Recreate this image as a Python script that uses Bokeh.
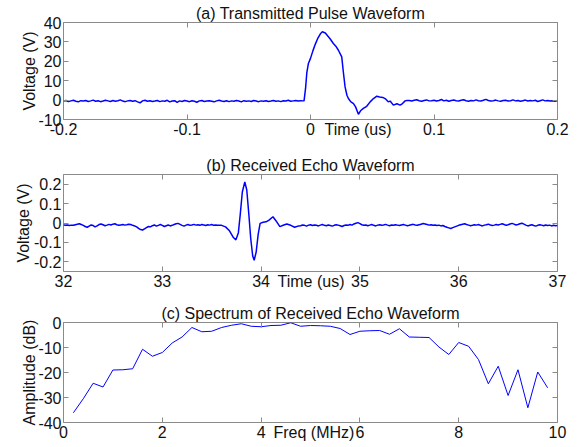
import numpy as np
from bokeh.plotting import figure
from bokeh.layouts import column
from bokeh.models import Range1d, LinearAxis, FixedTicker, CustomLabelingPolicy
from bokeh.embed import file_html
from bokeh.resources import INLINE

# ---------------- data ----------------
# (a) transmitted pulse: baseline before pulse (t = -0.200 .. -0.006 us, step 0.002)
a_pre_start, a_pre_step = -0.200, 0.002
a_pre_v = [-0.5,-0.2,-0.8,-0.4,-0.1,-0.6,-0.9,-0.3,-0.5,-0.2,
           -0.7,-0.4,0.0,-0.6,-0.3,-0.8,-0.5,-0.1,-0.4,-0.7,
           -0.2,-0.6,-0.3,0.1,-0.5,-0.8,-0.4,-0.2,-0.6,-0.3,
           -0.9,-1.4,-0.4,-0.1,-0.6,-0.3,-0.7,-0.5,-0.2,-0.8,
           -0.4,-0.6,-0.1,-0.9,-0.5,-0.3,-1.2,-0.4,-0.7,-0.2,
           -0.5,-0.8,-0.3,-0.6,-1.1,-0.4,-0.2,-0.7,-0.5,-0.3,
           -0.6,-0.9,-0.4,-0.1,-0.5,-0.7,-0.3,-0.8,-0.4,-0.6,
           -0.2,-0.5,-0.9,-0.3,-0.6,-0.4,-0.7,-0.2,-0.5,-0.8,
           -0.4,-0.6,-0.3,-0.7,-0.5,-0.2,-0.6,-0.4,-0.8,-0.3,
           -0.5,-0.1,-0.6,-0.4,-0.2,-0.5,-0.3,-0.4]
# pulse itself
a_pulse_t = [-0.0052,-0.004,-0.003,-0.0017,0.000,0.002,0.004,0.006,0.008,0.0096,
             0.012,0.014,0.016,0.0185,0.0205,0.0226,0.0253,0.0265,0.028,0.0295,
             0.0307,0.0325,0.0348,0.0365,0.0388,0.0405,0.0428,0.0455,0.0483,0.051,
             0.0537,0.056,0.0585,0.0604,0.063,0.0645,0.0671,0.070,0.0725,0.0745,0.0766,0.078]
a_pulse_v = [-0.3,6.0,14.0,18.9,21.5,25.5,29.0,32.0,34.2,35.2,
             34.6,33.0,31.5,29.2,27.8,25.7,22.3,15.0,6.8,2.5,
             0.8,-0.8,-1.8,-3.5,-7.3,-5.5,-4.3,-3.2,-0.9,0.8,
             2.0,1.6,1.4,0.8,-0.9,-0.5,-2.6,-1.9,-2.6,-1.8,-0.4,-0.2]
# baseline after pulse (t = 0.080 .. 0.200 us, step 0.002)
a_post_start, a_post_step = 0.080, 0.002
a_post_v = [-0.2,-0.5,-0.1,0.2,-0.3,-0.6,-0.2,0.1,-0.4,-0.3,
            -0.1,-0.5,-0.2,0.3,-0.4,-0.1,-0.6,-0.2,0.0,-0.3,
            -0.5,-0.1,0.2,-0.3,-0.6,-0.2,-0.4,0.1,-0.3,-0.5,
            -0.1,0.4,-0.2,-0.5,-0.3,0.0,-0.4,-0.6,-0.2,-0.1,
            -0.5,-0.3,0.1,-0.4,-0.2,-0.6,-0.3,0.0,-0.5,-0.2,
            -0.4,-0.1,-0.7,-0.3,0.1,-0.4,-0.2,-0.5,-0.3,-0.6,-0.2]
a_xticks = [-0.2, -0.1, 0, 0.1, 0.2]
a_xlabels = ["-0.2", "-0.1", "0", "0.1", "0.2"]
a_yticks = [-10, 0, 10, 20, 30, 40]
a_ylabels = ["-10", "0", "10", "20", "30", "40"]

# (b) received echo: baseline before echo (t = 32.00 .. 33.58 us, step 0.02)
b_pre_start, b_pre_step = 32.00, 0.02
b_pre_v = [-0.010,-0.012,-0.010,-0.013,-0.011,-0.012,-0.009,-0.006,-0.004,-0.008,
           -0.012,-0.018,-0.022,-0.016,-0.010,-0.013,-0.020,-0.015,-0.008,-0.005,
           -0.009,-0.014,-0.011,-0.007,-0.010,-0.006,-0.004,-0.009,-0.012,-0.010,
           -0.008,-0.011,-0.009,-0.006,-0.008,-0.012,-0.015,-0.020,-0.028,-0.034,
           -0.036,-0.030,-0.024,-0.018,-0.020,-0.014,-0.010,-0.016,-0.012,-0.008,
           -0.012,-0.018,-0.014,-0.010,-0.015,-0.012,-0.008,-0.004,-0.002,-0.007,
           -0.012,-0.016,-0.011,-0.008,-0.012,-0.010,-0.007,-0.011,-0.009,-0.012,
           -0.008,-0.010,-0.013,-0.009,-0.011,-0.008,-0.012,-0.010,-0.011,-0.012]
b_echo_t = [33.60,33.64,33.68,33.72,33.745,33.77,33.79,33.81,33.835,33.855,
            33.875,33.895,33.915,33.93,33.95,33.97,33.99,34.02,34.05,34.08,
            34.12,34.15,34.19,34.23,34.26,34.30,34.34,34.38]
b_echo_v = [-0.012,-0.020,-0.040,-0.075,-0.087,-0.050,0.050,0.160,0.212,0.170,
            0.050,-0.080,-0.170,-0.192,-0.150,-0.060,-0.002,0.004,0.006,0.015,
            0.032,0.012,-0.019,-0.010,-0.005,-0.012,-0.022,-0.015]
# baseline after echo (t = 34.40 .. 37.00 us, step 0.02)
b_post_start, b_post_step = 34.40, 0.02
b_post_v = [-0.014,-0.010,-0.012,-0.016,-0.011,-0.009,-0.013,-0.010,-0.012,-0.015,
            -0.011,-0.008,-0.012,-0.014,-0.010,-0.013,-0.016,-0.012,-0.009,-0.011,
            -0.014,-0.018,-0.013,-0.010,-0.012,-0.008,-0.011,-0.005,-0.001,0.002,
            -0.003,-0.009,-0.012,-0.010,-0.014,-0.011,-0.008,-0.012,-0.015,-0.011,
            -0.009,-0.012,-0.010,-0.007,-0.011,-0.014,-0.010,-0.012,-0.009,-0.011,
            -0.013,-0.010,-0.008,-0.011,-0.014,-0.012,-0.009,-0.007,-0.010,-0.012,
            -0.009,-0.006,-0.003,-0.005,-0.008,-0.011,-0.009,-0.012,-0.010,-0.013,
            -0.011,-0.015,-0.013,-0.018,-0.022,-0.025,-0.028,-0.024,-0.020,-0.016,
            -0.012,-0.009,-0.006,-0.004,-0.008,-0.011,-0.014,-0.012,-0.009,-0.011,
            -0.008,-0.012,-0.015,-0.011,-0.009,-0.006,-0.010,-0.013,-0.011,-0.008,
            -0.010,-0.007,-0.004,-0.008,-0.012,-0.009,-0.005,-0.002,-0.006,-0.010,
            -0.008,-0.004,-0.001,-0.006,-0.011,-0.015,-0.012,-0.009,-0.013,-0.016,
            -0.012,-0.009,-0.011,-0.014,-0.010,-0.013,-0.011,-0.015,-0.012,-0.014,
            -0.013]
b_xticks = [32, 33, 34, 35, 36, 37]
b_xlabels = ["32", "33", "34", "35", "36", "37"]
b_yticks = [-0.2, -0.1, 0, 0.1, 0.2]
b_ylabels = ["-0.2", "-0.1", "0", "0.1", "0.2"]

# (c) spectrum
c_freq = [0.2,0.4,0.6,0.8,1.0,1.2,1.4,1.6,1.8,2.0,
          2.2,2.4,2.6,2.8,3.0,3.2,3.4,3.6,3.8,4.0,
          4.2,4.4,4.6,4.8,5.0,5.2,5.4,5.6,5.8,6.0,
          6.2,6.4,6.6,6.8,7.0,7.2,7.4,7.6,7.8,8.0,
          8.2,8.4,8.6,8.8,9.0,9.2,9.4,9.6,9.8]
c_amp = [-36.1,-30.5,-24.3,-25.8,-19.0,-18.9,-18.5,-10.7,-13.5,-12.0,
         -8.2,-5.8,-2.0,-3.7,-3.5,-2.0,-1.1,-0.5,-1.5,-1.7,
         -1.2,-1.1,-0.1,-1.5,-1.2,-1.3,-1.5,-2.4,-4.8,-3.5,
         -3.3,-3.2,-4.7,-2.5,-5.8,-5.9,-6.0,-9.8,-12.8,-8.0,
         -9.5,-14.8,-24.5,-17.5,-29.2,-18.9,-34.1,-19.8,-26.1]
c_xticks = [0, 2, 4, 6, 8, 10]
c_xlabels = ["0", "2", "4", "6", "8", "10"]
c_yticks = [-40, -30, -20, -10, 0]
c_ylabels = ["-40", "-30", "-20", "-10", "0"]

# ---------------- styling ----------------
FONT = "Liberation Sans"
GRAY = "#8a8a8a"
BLUE = "#0000FF"
TXT = "#111111"


def tick_axis(ticks):
    """inward ticks only, no labels"""
    ax = LinearAxis()
    ax.ticker = FixedTicker(ticks=ticks)
    ax.major_tick_in = 5
    ax.major_tick_out = 0
    ax.minor_tick_in = 0
    ax.minor_tick_out = 0
    ax.major_tick_line_color = GRAY
    ax.axis_line_color = None
    ax.major_label_text_font_size = "0px"
    ax.major_label_standoff = 0
    ax.major_label_policy = CustomLabelingPolicy(code="return []")
    return ax


def label_axis(ticks, labels, standoff):
    """labels only, no tick marks"""
    ax = LinearAxis()
    ax.ticker = FixedTicker(ticks=ticks)
    ax.major_tick_in = 0
    ax.major_tick_out = 0
    ax.minor_tick_in = 0
    ax.minor_tick_out = 0
    ax.major_tick_line_color = None
    ax.axis_line_color = None
    ax.major_label_text_font = FONT
    ax.major_label_text_font_size = "16px"
    ax.major_label_text_color = TXT
    ax.major_label_standoff = standoff
    ax.major_label_overrides = {t: s for t, s in zip(ticks, labels)}
    return ax


def make_panel(xr, yr, xticks, xlabels, yticks, ylabels, ylabel, title, xlabel,
               xlabel_pos, ylabel_standoff, fh, top, bottom):
    p = figure(frame_width=494, frame_height=fh,
               min_border_left=63, min_border_right=16,
               min_border_top=top, min_border_bottom=bottom,
               x_range=Range1d(*xr), y_range=Range1d(*yr),
               output_backend="svg", toolbar_location=None,
               x_axis_location=None, y_axis_location=None,
               title=title)
    p.grid.visible = False
    p.outline_line_color = GRAY
    p.outline_line_width = 1
    p.background_fill_color = "white"
    p.border_fill_color = "white"
    p.title.align = "center"
    p.title.text_font = FONT
    p.title.text_font_size = "16px"
    p.title.text_font_style = "normal"
    p.title.text_color = TXT
    p.title.standoff = 2

    # left: ticks + labels + axis label
    p.add_layout(tick_axis(yticks), "left")
    leftl = label_axis(yticks, ylabels, 2)
    leftl.axis_label = ylabel
    leftl.axis_label_text_font = FONT
    leftl.axis_label_text_font_size = "16px"
    leftl.axis_label_text_font_style = "normal"
    leftl.axis_label_text_color = TXT
    leftl.axis_label_standoff = ylabel_standoff
    p.add_layout(leftl, "left")

    # bottom: ticks, then tick labels with the axis title placed among them
    p.add_layout(tick_axis(xticks), "below")
    p.add_layout(label_axis(xticks + [xlabel_pos], xlabels + [xlabel], 1), "below")

    # mirrored inward ticks on the right and top
    p.add_layout(tick_axis(yticks), "right")
    p.add_layout(tick_axis(xticks), "above")
    return p


# panel (a)
a_t = (list(a_pre_start + a_pre_step * np.arange(len(a_pre_v))) + a_pulse_t +
       list(a_post_start + a_post_step * np.arange(len(a_post_v))))
a_v = a_pre_v + a_pulse_v + a_post_v
p1 = make_panel((-0.2, 0.2), (-10, 40), a_xticks, a_xlabels, a_yticks, a_ylabels,
                "Voltage (V)", "(a) Transmitted Pulse Waveform", "Time (us)",
                0.0385, -3, 97, 22, 31)
p1.line(a_t, a_v, line_color=BLUE, line_width=1.5)

# panel (b)
b_t = (list(b_pre_start + b_pre_step * np.arange(len(b_pre_v))) + b_echo_t +
       list(b_post_start + b_post_step * np.arange(len(b_post_v))))
b_v = b_pre_v + b_echo_v + b_post_v
p2 = make_panel((32, 37), (-0.25, 0.25), b_xticks, b_xlabels, b_yticks, b_ylabels,
                "Voltage (V)", "(b) Received Echo Waveform", "Time (us)",
                34.505, -1, 97, 24, 29)
p2.line(b_t, b_v, line_color=BLUE, line_width=1.5)

# panel (c)
p3 = make_panel((0, 10), (-40, 0), c_xticks, c_xlabels, c_yticks, c_ylabels,
                "Amplitude (dB)", "(c) Spectrum of Received Echo Waveform",
                "Freq (MHz)", 5.07, -3, 100, 22, 24)
p3.line(c_freq, c_amp, line_color=BLUE, line_width=1)

layout = column(p1, p2, p3, spacing=0)
open("out.html", "w").write(file_html(layout, INLINE))
